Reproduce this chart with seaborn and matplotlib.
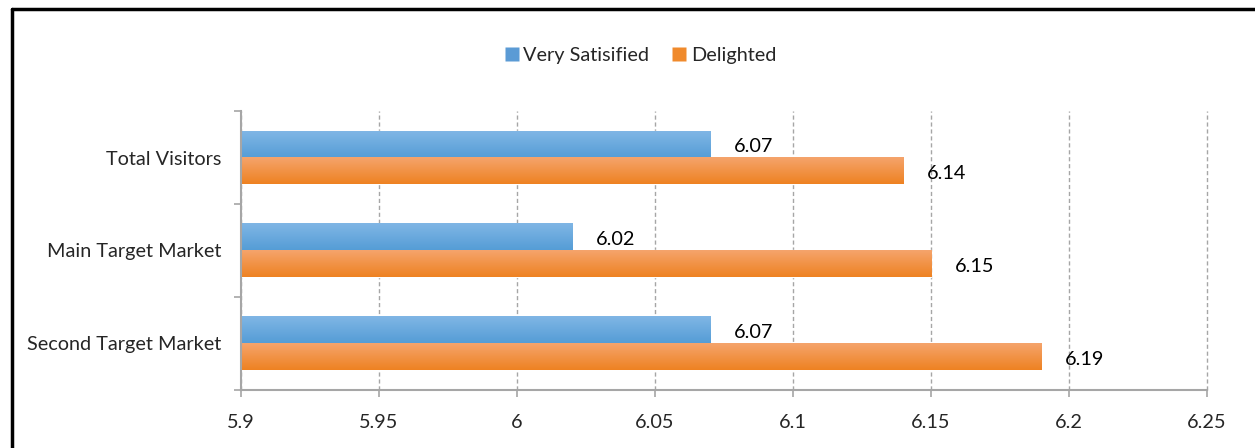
import numpy as np
import pandas as pd
import matplotlib
matplotlib.use("Agg")
import matplotlib.pyplot as plt
from matplotlib.colors import LinearSegmentedColormap
from matplotlib.lines import Line2D
import seaborn as sns

# data
categories = ["Total Visitors", "Main Target Market", "Second Target Market"]
very_satisfied = [6.07, 6.02, 6.07]
delighted = [6.14, 6.15, 6.19]
series_names = ["Very Satisified", "Delighted"]
x_ticks = [5.9, 5.95, 6.0, 6.05, 6.1, 6.15, 6.2, 6.25]
x_tick_labels = ["5.9", "5.95", "6", "6.05", "6.1", "6.15", "6.2", "6.25"]

df = pd.DataFrame({
    "category": categories * 2,
    "series": [series_names[0]] * 3 + [series_names[1]] * 3,
    "value": very_satisfied + delighted,
})

sns.set_style("white")
plt.rcParams["font.family"] = ["Lato", "DejaVu Sans"]

# (top colour, bottom colour, base colour) per series
grads = {
    series_names[0]: ("#80b6e5", "#559dd6", "#5b9bd5"),
    series_names[1]: ("#f5a46c", "#ee8222", "#f08a2c"),
}
palette = {k: v[2] for k, v in grads.items()}

XMIN, XMAX = 5.9, 6.25
FS = 14.3

fig = plt.figure(figsize=(12.55, 4.48), dpi=100)
ax = fig.add_axes([0.192, 0.1295, 0.9618 - 0.192, 0.7522 - 0.1295])

sns.barplot(data=df, y="category", x="value", hue="series", orient="h",
            palette=palette, width=0.58, ax=ax, legend=False, saturation=1)

ax.set_xlim(XMIN, XMAX)
ax.set_ylim(2.5, -0.5)

# gradient fill for each bar (Excel style), only over the visible part
for cont, name in zip(ax.containers, series_names):
    top_c, bot_c, _ = grads[name]
    cmap = LinearSegmentedColormap.from_list(name, [top_c, bot_c])
    grad = np.linspace(0, 1, 64).reshape(-1, 1)
    for bar in cont:
        x0, y0 = bar.get_x(), bar.get_y()
        w, h = bar.get_width(), bar.get_height()
        ax.imshow(grad, cmap=cmap, aspect="auto", origin="upper",
                  extent=(max(x0, XMIN), x0 + w, y0 + h, y0),
                  zorder=bar.get_zorder() + 0.1)
    labels = ax.bar_label(cont, labels=[f"{v:g}" for v in cont.datavalues],
                          padding=17, fontsize=FS, color="black")
    # nudge the value labels a little below bar centre, like the original
    for t in labels:
        t.xyann = (t.xyann[0], t.xyann[1] - 2)

ax.set_xlim(XMIN, XMAX)
ax.set_ylim(2.5, -0.5)

# axes cosmetics
ax.set_xticks(x_ticks)
ax.set_xticklabels(x_tick_labels, fontsize=FS)
ax.set_yticks(range(len(categories)))
ax.set_yticklabels(categories, fontsize=FS)
ax.set_yticks([-0.5, 0.5, 1.5, 2.5], minor=True)
ax.tick_params(axis="y", which="major", length=0, pad=14)
ax.tick_params(axis="y", which="minor", length=5, color="#a6a6a6", width=1.2, left=True)
ax.tick_params(axis="x", which="major", length=5, color="#a6a6a6", width=1.2,
               direction="out", pad=12, bottom=True)
ax.set_xlabel("")
ax.set_ylabel("")
ax.grid(axis="x", linestyle=(0, (3, 2)), color="#a6a6a6", linewidth=1)
for gl in ax.get_xgridlines():
    gl.set_clip_on(False)
ax.set_axisbelow(True)
for s in ["top", "right"]:
    ax.spines[s].set_visible(False)
for s in ["left", "bottom"]:
    ax.spines[s].set_color("#a6a6a6")
    ax.spines[s].set_linewidth(1.5)

# legend at top
handles = [Line2D([], [], marker="s", linestyle="none", markersize=10,
                  markerfacecolor=grads[n][2], markeredgecolor="none") for n in series_names]
fig.legend(handles, series_names, loc="center", bbox_to_anchor=(0.51, 0.876),
           ncol=2, frameon=False, fontsize=FS, handlelength=0.8,
           handletextpad=0.2, columnspacing=1.1)

# black frame on left and top
fig.add_artist(Line2D([0.0096, 0.0096], [0.0, 0.98], transform=fig.transFigure,
                      color="black", linewidth=2.5))
fig.add_artist(Line2D([0.0096, 1.0], [0.98, 0.98], transform=fig.transFigure,
                      color="black", linewidth=2.5))

fig.savefig("out.png", dpi=100)
